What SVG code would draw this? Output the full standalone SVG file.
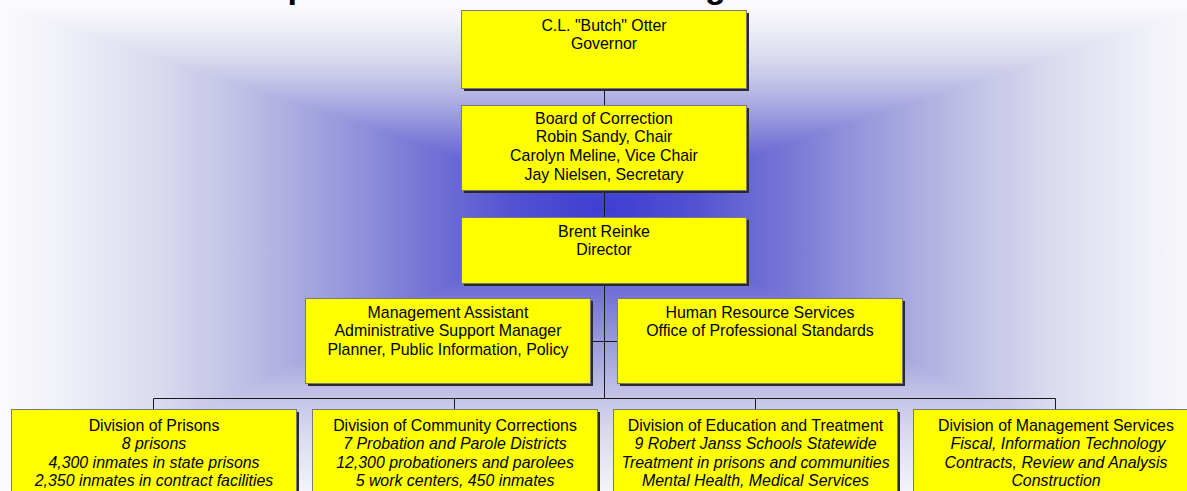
<svg xmlns="http://www.w3.org/2000/svg" width="1187" height="491" viewBox="0 0 1187 491">
<defs>
<linearGradient id="gT" gradientUnits="userSpaceOnUse" x1="604" y1="205" x2="604" y2="5">
<stop offset="0" stop-color="#3d3dd3"/><stop offset="0.15" stop-color="#5252d2"/><stop offset="0.3" stop-color="#7676d6"/><stop offset="0.45" stop-color="#9c9cdd"/><stop offset="0.6" stop-color="#c0c0e6"/><stop offset="0.75" stop-color="#dcdcf0"/><stop offset="0.9" stop-color="#f0f0f8"/><stop offset="1" stop-color="#fbfbfd"/>
</linearGradient>
<linearGradient id="gB" href="#gT" x1="604" y1="205" x2="604" y2="515"/>
<linearGradient id="gL" href="#gT" x1="604" y1="205" x2="0" y2="205"/>
<linearGradient id="gR" href="#gT" x1="604" y1="205" x2="1208" y2="205"/>
<style>
.shadow{fill:#2a2a2a}
.box{fill:#ffff00;stroke:#7a7a7a;stroke-width:1}
.t{font-family:"Liberation Sans",Arial,sans-serif;font-size:15.9px;fill:#000;text-anchor:middle}
.i{font-style:italic}
.c{stroke:#1a1a1a;stroke-width:1;fill:none}
.title{font-family:"Liberation Sans",Arial,sans-serif;font-size:34px;font-weight:bold;fill:#000}
</style>
</defs>
<rect x="0" y="0" width="1187" height="491" fill="#fbfbfd"/>
<polygon points="604,205 0,5 1208,5" fill="url(#gT)" stroke="url(#gT)" stroke-width="1"/>
<polygon points="604,205 0,515 1208,515" fill="url(#gB)" stroke="url(#gB)" stroke-width="1"/>
<polygon points="604,205 0,5 0,515" fill="url(#gL)" stroke="url(#gL)" stroke-width="1"/>
<polygon points="604,205 1208,5 1208,515" fill="url(#gR)" stroke="url(#gR)" stroke-width="1"/>
<text class="title" x="144" y="-2">Idaho Department of Correction Organizational Chart</text>
<g id="connectors">
<path class="c" d="M604.5 88V105M604.5 190V217M604.5 283V398.5M591 341.5H617M153.5 398.5H1055.5M153.5 398.5V409M454.5 398.5V409M755.5 398.5V409M1055.5 398.5V409"/>
</g>
<g id="governor">
<rect class="shadow" x="464" y="13" width="285" height="78"/>
<rect class="box" x="461.5" y="10.5" width="285" height="78"/>
<text class="t" x="604" y="30.5">C.L. "Butch" Otter</text>
<text class="t" x="604" y="48.5">Governor</text>
</g>
<g id="board">
<rect class="shadow" x="464" y="108" width="285" height="85"/>
<rect class="box" x="461.5" y="105.5" width="285" height="85"/>
<text class="t" x="604" y="123.5">Board of Correction</text>
<text class="t" x="604" y="142">Robin Sandy, Chair</text>
<text class="t" x="604" y="160.5">Carolyn Meline, Vice Chair</text>
<text class="t" x="604" y="179.5">Jay Nielsen, Secretary</text>
</g>
<g id="director">
<rect class="shadow" x="464" y="220" width="285" height="66"/>
<rect class="box" x="461.5" y="217.5" width="285" height="66"/>
<text class="t" x="604" y="236.5">Brent Reinke</text>
<text class="t" x="604" y="254.5">Director</text>
</g>
<g id="mgmt-assistant">
<rect class="shadow" x="308" y="301" width="285" height="85"/>
<rect class="box" x="305.5" y="298.5" width="285" height="85"/>
<text class="t" x="448" y="317.5">Management Assistant</text>
<text class="t" x="448" y="336">Administrative Support Manager</text>
<text class="t" x="448" y="354.5">Planner, Public Information, Policy</text>
</g>
<g id="hr">
<rect class="shadow" x="620" y="301" width="285" height="85"/>
<rect class="box" x="617.5" y="298.5" width="285" height="85"/>
<text class="t" x="760" y="317.5">Human Resource Services</text>
<text class="t" x="760" y="336">Office of Professional Standards</text>
</g>
<g id="prisons">
<rect class="shadow" x="14" y="412" width="285" height="90"/>
<rect class="box" x="11.5" y="409.5" width="285" height="90"/>
<text class="t" x="154" y="430.5">Division of Prisons</text>
<text class="t i" x="154" y="448.5">8 prisons</text>
<text class="t i" x="154" y="467.5">4,300 inmates in state prisons</text>
<text class="t i" x="154" y="486">2,350 inmates in contract facilities</text>
</g>
<g id="community">
<rect class="shadow" x="315" y="412" width="285" height="90"/>
<rect class="box" x="312.5" y="409.5" width="285" height="90"/>
<text class="t" x="455" y="430.5">Division of Community Corrections</text>
<text class="t i" x="455" y="448.5">7 Probation and Parole Districts</text>
<text class="t i" x="455" y="467.5">12,300 probationers and parolees</text>
<text class="t i" x="455" y="486">5 work centers, 450 inmates</text>
</g>
<g id="education">
<rect class="shadow" x="616" y="412" width="284" height="90"/>
<rect class="box" x="613.5" y="409.5" width="284" height="90"/>
<text class="t" x="755.5" y="430.5">Division of Education and Treatment</text>
<text class="t i" x="755.5" y="448.5">9 Robert Janss Schools Statewide</text>
<text class="t i" x="755.5" y="467.5">Treatment in prisons and communities</text>
<text class="t i" x="755.5" y="486">Mental Health, Medical Services</text>
</g>
<g id="management-services">
<rect class="shadow" x="916" y="412" width="285" height="90"/>
<rect class="box" x="913.5" y="409.5" width="285" height="90"/>
<text class="t" x="1056" y="430.5">Division of Management Services</text>
<text class="t i" x="1058" y="448.5">Fiscal, Information Technology</text>
<text class="t i" x="1056" y="467.5">Contracts, Review and Analysis</text>
<text class="t i" x="1056" y="486">Construction</text>
</g>
</svg>
